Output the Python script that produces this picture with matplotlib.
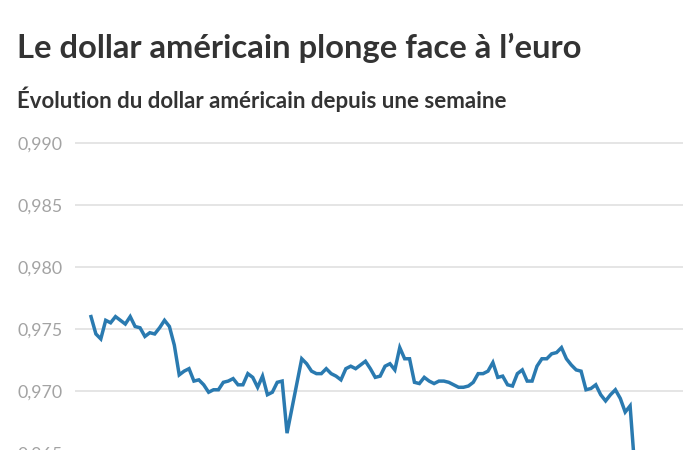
import matplotlib
matplotlib.use("Agg")
import matplotlib.pyplot as plt
import numpy as np

title = "Le dollar américain plonge face à l\u2019euro"
subtitle = "Évolution du dollar américain depuis une semaine"

usd_eur = [
    0.9760, 0.9746, 0.9742, 0.9757, 0.9755, 0.9760, 0.9757, 0.9754, 0.9760, 0.9752,
    0.9751, 0.9744, 0.9747, 0.9746, 0.9751, 0.9757, 0.9752, 0.9737, 0.9713, 0.9716,
    0.9718, 0.9708, 0.9709, 0.9705, 0.9699, 0.9701, 0.9701, 0.9707, 0.9708, 0.9710,
    0.9705, 0.9705, 0.9714, 0.9711, 0.9703, 0.9712, 0.9697, 0.9699, 0.9707, 0.9708,
    0.9666, 0.9686, 0.9706, 0.9726, 0.9722, 0.9716, 0.9714, 0.9714, 0.9718, 0.9714,
    0.9712, 0.9709, 0.9718, 0.9720, 0.9718, 0.9721, 0.9724, 0.9718, 0.9711, 0.9712,
    0.9720, 0.9722, 0.9717, 0.9735, 0.9726, 0.9726, 0.9707, 0.9706, 0.9711, 0.9708,
    0.9706, 0.9708, 0.9708, 0.9707, 0.9705, 0.9703, 0.9703, 0.9704, 0.9707, 0.9714,
    0.9714, 0.9716, 0.9723, 0.9711, 0.9712, 0.9705, 0.9704, 0.9714, 0.9717, 0.9708,
    0.9708, 0.9720, 0.9726, 0.9726, 0.9730, 0.9731, 0.9735, 0.9726, 0.9721, 0.9717,
    0.9716, 0.9701, 0.9702, 0.9705, 0.9697, 0.9692, 0.9697, 0.9701, 0.9694, 0.9683,
    0.9688, 0.9635,
]
y_ticks = [0.965, 0.970, 0.975, 0.980, 0.985, 0.990]
y_tick_labels = ["0,965", "0,970", "0,975", "0,980", "0,985", "0,990"]

plt.rcParams['font.family'] = ['Lato', 'DejaVu Sans']

fig = plt.figure(figsize=(7, 4.5), dpi=100)
W, H = 700, 450

# axes: x 75..683 px, y 0.9905 at 136.8 px, 0.9640 at 465.4 px
top_px, bot_px = 136.8, 465.4
ax = fig.add_axes([75 / W, 1 - bot_px / H, 608 / W, (bot_px - top_px) / H])

x = np.arange(len(usd_eur))
ax.plot(x, usd_eur, color="#2a7ab0", lw=2.5, solid_joinstyle="miter", zorder=3)

n = len(usd_eur) - 1
ppu = (635 - 91) / n
ax.set_xlim(-(91 - 75) / ppu, n + (683 - 635) / ppu)
ax.set_ylim(0.9640, 0.9905)
ax.set_yticks(y_ticks)
ax.set_yticklabels(y_tick_labels)
ax.set_xticks([])
ax.grid(axis="y", color="#e3e3e3", lw=1.3)
ax.set_axisbelow(True)
for s in ax.spines.values():
    s.set_visible(False)
ax.tick_params(axis="y", length=0, pad=9, labelsize=12.8, labelcolor="#a3a3a3")

fig.text(17 / W, 1 - 58 / H, title, fontsize=23.6, fontweight="bold", color="#333333",
         ha="left", va="baseline")
fig.text(17 / W, 1 - 108 / H, subtitle, fontsize=16, fontweight="bold", color="#333333",
         ha="left", va="baseline")

fig.savefig("out.png", dpi=100)
